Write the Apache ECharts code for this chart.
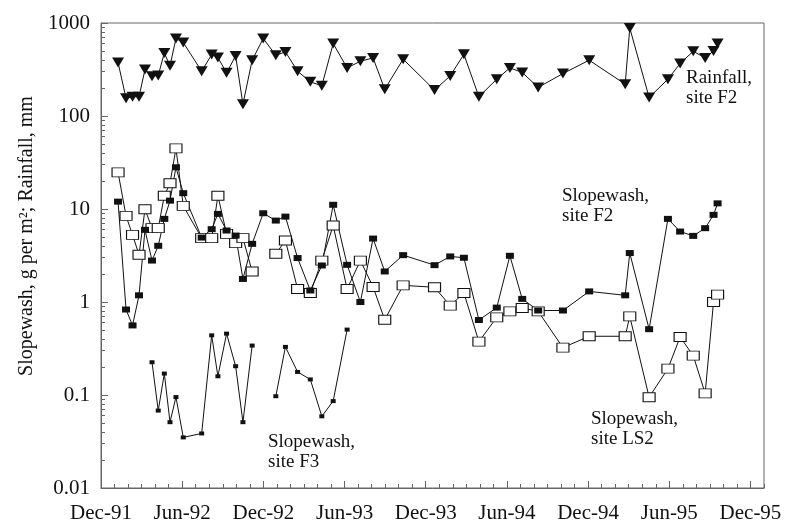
<!DOCTYPE html>
<html>
<head>
<meta charset="utf-8">
<script src="https://cdn.jsdelivr.net/npm/echarts@6/dist/echarts.min.js"></script>
<style>
  html, body { margin: 0; padding: 0; background: #fff; }
  #chart { width: 785px; height: 528px; }
</style>
</head>
<body>
<div id="chart"></div>
<script>
// sample dates, in months after Dec-91
const months = [1.26, 1.85, 2.33, 2.81, 3.25, 3.77, 4.23, 4.68, 5.10, 5.54, 6.08, 7.44, 8.18, 8.64,
  9.28, 9.95, 10.49, 11.17, 11.99, 12.92, 13.63, 14.53, 15.47, 16.32, 17.16, 18.19, 19.17, 20.11,
  20.97, 22.33, 24.65, 25.81, 26.82, 27.93, 29.25, 30.22, 31.13, 32.31, 34.14, 36.08, 38.74, 39.08,
  40.51, 41.90, 42.80, 43.77, 44.65, 45.27, 45.57];

// rainfall at site F2, mm
const rainfall = [376, 155, 161, 161, 316, 268, 273, 477, 346, 680, 616, 303, 458, 425, 291, 443,
  134, 398, 680, 450, 489, 303, 233, 211, 601, 329, 388, 421, 194, 408, 190, 270, 461, 161, 249,
  329, 294, 203, 286, 398, 220, 884, 158, 249, 367, 497, 421, 501, 601];

// slopewash, g per m2
const washF2 = [12.0, 0.83, 0.56, 1.18, 5.97, 2.79, 4.02, 7.83, 12.3, 28.1, 14.8, 4.93, 6.07, 8.86,
  5.87, 5.18, 1.77, 4.22, 9.0, 7.51, 8.28, 2.97, 1.33, 2.47, 11.1, 2.51, 1.0, 4.81, 2.13, 3.19,
  2.49, 3.09, 2.99, 0.64, 0.87, 3.14, 1.08, 0.81, 0.81, 1.30, 1.18, 3.36, 0.51, 7.83, 5.72, 5.14,
  6.22, 8.65, 11.5];

const washLS2 = [24.8, 8.43, 5.27, 3.22, 9.95, 6.22, 6.22, 13.9, 18.9, 44.9, 10.8, 4.86, 4.86, 13.9,
  5.41, 4.30, 4.86, 2.13, null, 3.30, 4.58, 1.38, 1.25, 2.79, 6.64, 1.38, 2.79, 1.45, 0.645, 1.51,
  1.44, 0.913, 1.25, 0.375, 0.684, 0.793, 0.863, 0.793, 0.323, 0.428, 0.428, 0.70, 0.0947, 0.192,
  0.42, 0.265, 0.104, 1.0, 1.20];

const washF3 = [null, null, null, null, null, 0.225, 0.068, 0.170, 0.051, 0.095, 0.035, 0.0386,
  0.438, 0.159, 0.457, 0.204, 0.051, 0.34, null, 0.097, 0.329, 0.177, 0.147, 0.059, 0.086, 0.505,
  null, null, null, null, null, null, null, null, null, null, null, null, null, null, null, null,
  null, null, null, null, null, null, null];

const xLabels = ['Dec-91', 'Jun-92', 'Dec-92', 'Jun-93', 'Dec-93', 'Jun-94', 'Dec-94', 'Jun-95', 'Dec-95'];
const yLabels = ['0.01', '0.1', '1', '10', '100', '1000'];

const FONT = 'Liberation Serif';
const INK = '#111';
const AXIS = '#666';

const toPairs = vals => months.map((m, i) => [m, vals[i] == null ? '-' : vals[i]]);

// tick positions
const majorMonths = xLabels.map((_, i) => i * 6);
const minorMonths = [];
for (let m = 1; m <= 49; m++) if (m % 6 !== 0) minorMonths.push(m);
const minorLog = [];
for (let d = -2; d < 3; d++) for (let k = 2; k <= 9; k++) minorLog.push(d + Math.log10(k));

const chart = echarts.init(document.getElementById('chart'));

const lineBase = {
  type: 'line',
  xAxisIndex: 0,
  yAxisIndex: 0,
  lineStyle: { color: INK, width: 1 },
  connectNulls: false,
  showAllSymbol: true
};

chart.setOption({
  animation: false,
  backgroundColor: '#fff',
  grid: {
    left: 101, top: 23, right: 21, bottom: 40,
    show: true, borderColor: AXIS, borderWidth: 1
  },
  xAxis: [
    {
      type: 'value', min: 0, max: 49, interval: 6,
      axisLine: { onZero: false, lineStyle: { color: AXIS } },
      axisTick: { inside: true, length: 7, lineStyle: { color: AXIS }, customValues: majorMonths },
      splitLine: { show: false },
      axisLabel: {
        customValues: majorMonths,
        formatter: v => xLabels[Math.round(v / 6)] || '',
        fontFamily: FONT, fontSize: 21, color: INK, margin: 15
      }
    },
    {
      type: 'value', min: 0, max: 49, position: 'bottom',
      axisLine: { show: false, onZero: false },
      axisTick: { show: true, inside: true, length: 4, lineStyle: { color: AXIS }, customValues: minorMonths },
      axisLabel: { show: false },
      splitLine: { show: false }
    }
  ],
  yAxis: [
    {
      type: 'log', logBase: 10, min: 0.01, max: 1000,
      axisLine: { show: true, onZero: false, lineStyle: { color: AXIS } },
      axisTick: { show: true, inside: true, length: 7, lineStyle: { color: AXIS } },
      splitLine: { show: false },
      axisLabel: {
        formatter: v => yLabels[Math.round(Math.log10(v)) + 2],
        fontFamily: FONT, fontSize: 21, color: INK, margin: 11
      }
    },
    {
      type: 'value', min: -2, max: 3, position: 'left',
      axisLine: { show: false, onZero: false },
      axisTick: { show: true, inside: true, length: 4, lineStyle: { color: AXIS }, customValues: minorLog },
      axisLabel: { show: false },
      splitLine: { show: false }
    }
  ],
  series: [
    Object.assign({}, lineBase, {
      name: 'Rainfall, site F2',
      data: toPairs(rainfall),
      symbol: 'triangle', symbolRotate: 180, symbolSize: [12, 10],
      itemStyle: { color: INK }
    }),
    Object.assign({}, lineBase, {
      name: 'Slopewash, site LS2',
      data: toPairs(washLS2),
      symbol: 'rect', symbolSize: [12, 9],
      itemStyle: { color: '#fff', borderColor: INK, borderWidth: 1 }
    }),
    Object.assign({}, lineBase, {
      name: 'Slopewash, site F2',
      data: toPairs(washF2),
      symbol: 'rect', symbolSize: [8, 6],
      itemStyle: { color: INK }
    }),
    Object.assign({}, lineBase, {
      name: 'Slopewash, site F3',
      data: toPairs(washF3),
      symbol: 'rect', symbolSize: [5, 4],
      itemStyle: { color: INK }
    })
  ],
  graphic: [
    {
      type: 'text', x: 27, y: 236, rotation: Math.PI / 2,
      style: {
        text: 'Slopewash, g per m²; Rainfall, mm',
        font: '20px "' + FONT + '"', fill: INK,
        align: 'center', verticalAlign: 'middle'
      }
    },
    {
      type: 'text', left: 686, top: 68,
      style: { text: 'Rainfall,\nsite F2', font: '19px "' + FONT + '"', fill: INK, lineHeight: 20 }
    },
    {
      type: 'text', left: 562, top: 186,
      style: { text: 'Slopewash,\nsite F2', font: '19px "' + FONT + '"', fill: INK, lineHeight: 20 }
    },
    {
      type: 'text', left: 591, top: 409,
      style: { text: 'Slopewash,\nsite LS2', font: '19px "' + FONT + '"', fill: INK, lineHeight: 20 }
    },
    {
      type: 'text', left: 268, top: 432,
      style: { text: 'Slopewash,\nsite F3', font: '19px "' + FONT + '"', fill: INK, lineHeight: 20 }
    }
  ]
});
</script>
</body>
</html>
